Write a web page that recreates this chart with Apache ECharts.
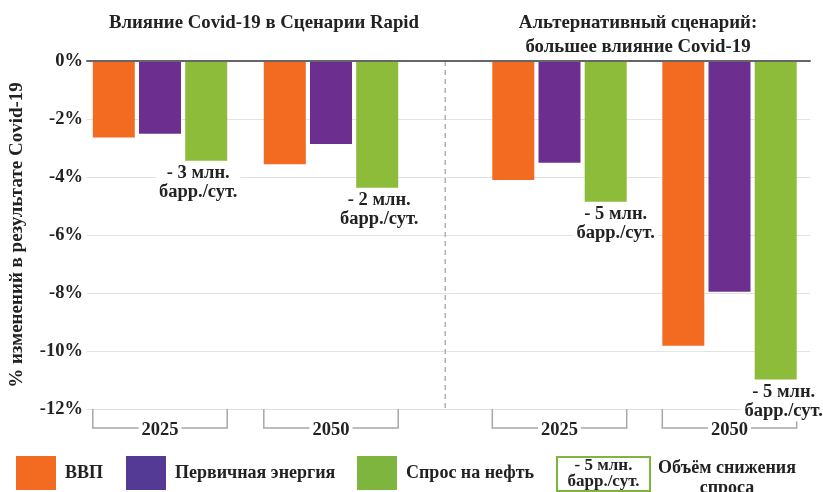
<!DOCTYPE html>
<html>
<head>
<meta charset="utf-8">
<script src="https://cdn.jsdelivr.net/npm/echarts@6/dist/echarts.min.js"></script>
<style>html,body{margin:0;padding:0;background:#fff;}#c{width:823px;height:492px;}</style>
</head>
<body>
<div id="c"></div>
<script>
// ---- data ----
const categories = ['2025', '2050'];
const seriesNames = ['ВВП', 'Первичная энергия', 'Спрос на нефть'];
const rapidGdp = [-2.64, -3.56];
const rapidEnergy = [-2.51, -2.86];
const rapidOil = [-3.44, -4.37];
const altGdp = [-4.10, -9.82];
const altEnergy = [-3.51, -7.96];
const altOil = [-4.85, -10.98];
const rapidOilNotes = ['- 3 млн.\nбарр./сут.', '- 2 млн.\nбарр./сут.'];
const altOilNotes = ['- 5 млн.\nбарр./сут.', '- 5 млн.\nбарр./сут.'];
const yMin = -12, yMax = 0, yStep = 2;
const titleRapid = 'Влияние Covid-19 в Сценарии Rapid';
const titleAlt = 'Альтернативный сценарий:\nбольшее влияние Covid-19';
const yName = '% изменений в результате Covid-19';
const boxLegendText = '- 5 млн.\nбарр./сут.';
const boxLegendLabel = 'Объём снижения\nспроса';

// ---- style ----
const FONT = "'Liberation Serif', 'Times New Roman', serif";
const TXT = '#222';
const colors = ['#F26B21', '#6C2F8F', '#8DBB3A'];
const legendColors = ['#F26B21', '#553A95', '#7DB53F'];
const BAR_W = 42, BAR_GAP = 0.1;

const chart = echarts.init(document.getElementById('c'), null, {renderer: 'canvas'});

const noteOffsetsRapid = [[-8, 0], [2, 0]];
const noteOffsetsAlt = [[10, 0], [8, 0]];

function barSeries(name, vals, idx, color, notes, offs) {
  return {
    name: name, type: 'bar', xAxisIndex: idx, yAxisIndex: idx,
    barWidth: BAR_W, barGap: (BAR_GAP * 100) + '%',
    itemStyle: {color: color},
    emphasis: {disabled: true},
    data: vals.map((v, i) => {
      const d = {value: v};
      if (notes) {
        d.label = {
          show: true, position: 'bottom', distance: 2, offset: offs[i],
          formatter: notes[i], fontFamily: FONT, fontWeight: 'bold', fontSize: 18.5,
          lineHeight: 19, color: TXT, backgroundColor: '#fff', padding: [1, 3, 1, 3]
        };
      }
      return d;
    })
  };
}

const catAxis = (idx) => ({
  type: 'category', gridIndex: idx, data: categories, position: 'bottom', z: 10,
  axisLine: {show: false}, axisTick: {show: false},
  axisLabel: {margin: 12, fontFamily: FONT, fontWeight: 'bold', fontSize: 18.5, color: TXT,
    backgroundColor: '#fff', padding: [0, 3, 0, 3]}
});
const hiddenY = (idx) => ({type: 'value', gridIndex: idx, min: yMin, max: yMax, interval: yStep, show: false});

const legendPos = [16, 126, 357];

const option = {
  animation: false,
  backgroundColor: '#fff',
  title: [
    {text: titleRapid, left: 259, top: 9, textAlign: 'center',
      textStyle: {fontFamily: FONT, fontWeight: 'bold', fontSize: 18.8, color: TXT}},
    {text: titleAlt, left: 633, top: 6, textAlign: 'center',
      textStyle: {fontFamily: FONT, fontWeight: 'bold', fontSize: 18.8, lineHeight: 24, color: TXT}}
  ],
  grid: [
    {left: 80, right: 13, top: 61, bottom: 83, containLabel: false},
    {left: 74.5, width: 342, top: 61, bottom: 83},
    {left: 474.5, width: 340, top: 61, bottom: 83}
  ],
  xAxis: [
    {type: 'value', gridIndex: 0, min: 0, max: 1, position: 'top', z: 5,
      axisLine: {show: true, onZero: false, lineStyle: {color: '#666', width: 2}},
      axisTick: {show: false}, axisLabel: {show: false}, splitLine: {show: false}},
    catAxis(1), catAxis(2)
  ],
  yAxis: [
    {type: 'value', gridIndex: 0, min: yMin, max: yMax, interval: yStep,
      name: yName, nameLocation: 'middle', nameGap: 60, nameRotate: 90,
      nameTextStyle: {fontFamily: FONT, fontWeight: 'bold', fontSize: 19, color: TXT},
      axisLine: {show: false}, axisTick: {show: false},
      axisLabel: {formatter: '{value}%', margin: 4, fontFamily: FONT, fontWeight: 'bold', fontSize: 18.5, color: TXT},
      splitLine: {show: true, lineStyle: {color: '#e2e2e2', width: 1}}},
    hiddenY(1), hiddenY(2)
  ],
  legend: seriesNames.map((n, i) => ({
    data: [{name: n, itemStyle: {color: legendColors[i]}}],
    left: legendPos[i], top: 456,
    icon: 'rect', itemWidth: 40, itemHeight: 34, selectedMode: false, padding: 0,
    textStyle: {fontFamily: FONT, fontWeight: 'bold', fontSize: 18, color: TXT, padding: [0, 0, 0, 4]}
  })),
  series: [
    {type: 'line', xAxisIndex: 0, yAxisIndex: 0, data: [], silent: true},
    barSeries(seriesNames[0], rapidGdp, 1, colors[0]),
    barSeries(seriesNames[1], rapidEnergy, 1, colors[1]),
    barSeries(seriesNames[2], rapidOil, 1, colors[2], rapidOilNotes, noteOffsetsRapid),
    barSeries(seriesNames[0], altGdp, 2, colors[0]),
    barSeries(seriesNames[1], altEnergy, 2, colors[1]),
    barSeries(seriesNames[2], altOil, 2, colors[2], altOilNotes, noteOffsetsAlt)
  ]
};
chart.setOption(option);

// ---- brackets under categories, separator, box legend ----
function buildGraphics() {
  const els = [];
  const half = (3 * BAR_W + 2 * BAR_W * BAR_GAP) / 2;
  const yBottom = chart.convertToPixel({yAxisIndex: 1}, yMin);
  const yTop = chart.convertToPixel({yAxisIndex: 1}, yMax);
  [1, 2].forEach(k => {
    categories.forEach(c => {
      const cx = chart.convertToPixel({xAxisIndex: k}, c);
      els.push({type: 'polyline', z: 1, silent: true,
        shape: {points: [[cx - half, yBottom], [cx - half, yBottom + 19], [cx + half, yBottom + 19], [cx + half, yBottom]]},
        style: {stroke: '#a8a8a8', lineWidth: 1.5, fill: null}});
    });
  });
  const l0 = chart.convertToPixel({xAxisIndex: 1}, categories[0]);
  const l1 = chart.convertToPixel({xAxisIndex: 1}, categories[1]);
  const r0 = chart.convertToPixel({xAxisIndex: 2}, categories[0]);
  const band = l1 - l0;
  const sepX = ((l1 + band / 2) + (r0 - band / 2)) / 2;
  els.push({type: 'line', z: 1, silent: true,
    shape: {x1: sepX, y1: yTop, x2: sepX, y2: yBottom},
    style: {stroke: '#b0b0b0', lineWidth: 1.5, lineDash: [5, 4]}});
  // box legend
  els.push({type: 'rect', z: 1, silent: true, shape: {x: 557, y: 457, width: 93, height: 34},
    style: {fill: '#fff', stroke: legendColors[2], lineWidth: 2}});
  els.push({type: 'text', z: 2, silent: true, x: 603.5, y: 474,
    style: {text: boxLegendText, align: 'center', verticalAlign: 'middle', font: "bold 17px 'Liberation Serif', serif",
      lineHeight: 16, fill: TXT}});
  els.push({type: 'text', z: 2, silent: true, x: 727, y: 458,
    style: {text: boxLegendLabel, align: 'center', verticalAlign: 'top', font: "bold 18px 'Liberation Serif', serif",
      lineHeight: 20, fill: TXT}});
  return els;
}
chart.setOption({graphic: {elements: buildGraphics()}});
</script>
</body>
</html>
